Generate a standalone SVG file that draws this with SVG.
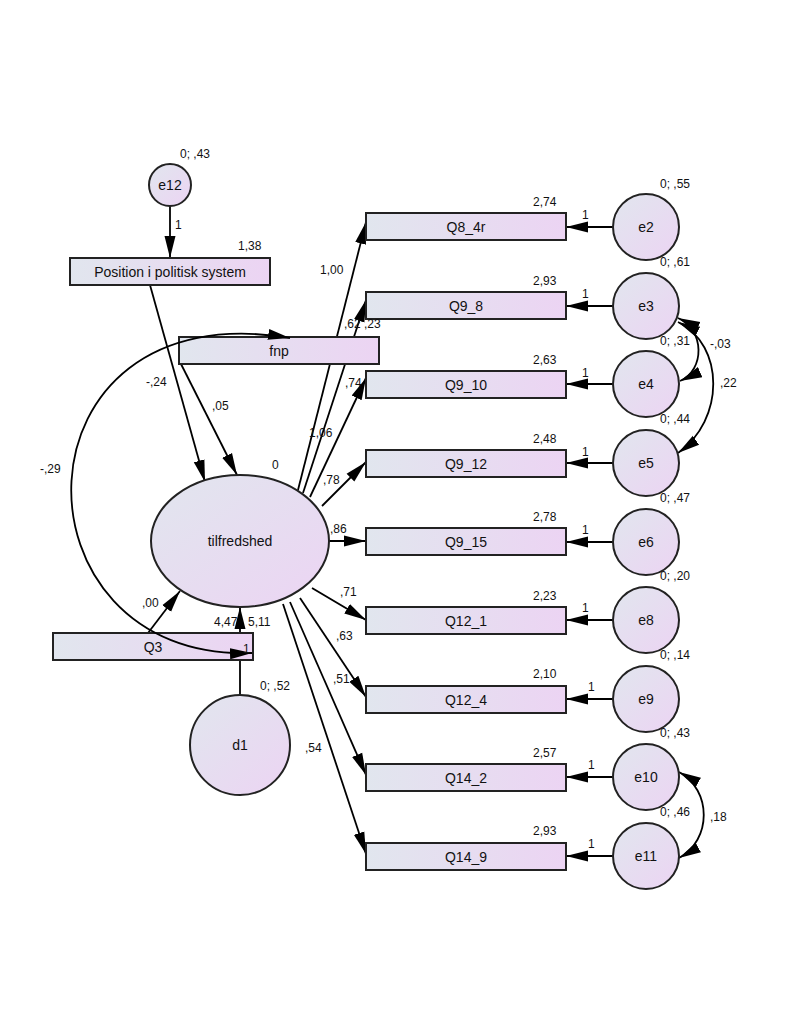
<svg xmlns="http://www.w3.org/2000/svg" width="800" height="1035" viewBox="0 0 800 1035">
<defs>
<linearGradient id="g" x1="0" y1="0" x2="1" y2="1"><stop offset="0" stop-color="#e1e6ee"/><stop offset="1" stop-color="#ecd4f3"/></linearGradient>
<linearGradient id="gb" x1="0" y1="0" x2="1" y2="0"><stop offset="0" stop-color="#e1e6ee"/><stop offset="1" stop-color="#ecd4f3"/></linearGradient>
<marker id="b" viewBox="0 0 10 10" refX="10" refY="5" markerWidth="22" markerHeight="22" markerUnits="userSpaceOnUse" orient="auto-start-reverse"><path d="M0,2.5 L10,5 L0,7.5 Z" fill="#000"/></marker>
</defs>
<style>
.bx{fill:url(#gb);stroke:#222;stroke-width:2}
circle,ellipse{fill:url(#g);stroke:#222;stroke-width:2}
text{font-family:"Liberation Sans",Arial,sans-serif;fill:#111}
.n{font-size:14px;text-anchor:middle}
.l{font-size:12px}
.c path,.c line{stroke:#000;stroke-width:1.8;fill:none;marker-end:url(#b)}
.c .d{marker-start:url(#b)}
</style>
<rect width="800" height="1035" fill="#fff"/>
<g class="c" id="connectors">
<line x1="170" y1="206" x2="170" y2="258"/>
<line x1="150" y1="285" x2="205" y2="482"/>
<line x1="181" y1="364" x2="237" y2="475"/>
<line x1="148" y1="633" x2="180" y2="591"/>
<line x1="240" y1="695" x2="240" y2="607"/>
<line x1="298" y1="490" x2="366" y2="222"/>
<line x1="303" y1="493" x2="366" y2="300"/>
<line x1="310" y1="497" x2="366" y2="378"/>
<line x1="322" y1="506" x2="366" y2="462"/>
<line x1="329" y1="541" x2="366" y2="541"/>
<line x1="312" y1="588" x2="366" y2="620"/>
<line x1="300" y1="598" x2="366" y2="697"/>
<line x1="290" y1="602" x2="366" y2="775"/>
<line x1="283" y1="604" x2="366" y2="854"/>
<line x1="613" y1="227" x2="566" y2="227"/>
<line x1="613" y1="306" x2="566" y2="306"/>
<line x1="613" y1="384" x2="566" y2="384"/>
<line x1="613" y1="463" x2="566" y2="463"/>
<line x1="613" y1="542" x2="566" y2="542"/>
<line x1="613" y1="620" x2="566" y2="620"/>
<line x1="613" y1="699" x2="566" y2="699"/>
<line x1="613" y1="777" x2="566" y2="777"/>
<line x1="613" y1="856" x2="566" y2="856"/>
<path class="d" d="M678,318 C705,330 705,370 680,381"/>
<path class="d" d="M678,322 C725,345 725,420 678,453"/>
<path class="d" d="M679,772 C712,790 712,840 679,858"/>
</g>
<g id="e12"><circle cx="170" cy="185" r="21"/><text class="n" x="170" y="190">e12</text></g>
<g id="pos"><rect class="bx" x="70" y="258" width="200" height="27"/><text class="n" x="170" y="277">Position i politisk system</text></g>
<g id="fnp"><rect class="bx" x="179" y="337" width="200" height="27"/><text class="n" x="279" y="356">fnp</text></g>
<g id="tilfredshed"><ellipse cx="240" cy="541" rx="89" ry="66"/><text class="n" x="240" y="546">tilfredshed</text></g>
<g id="Q3"><rect class="bx" x="53" y="633" width="200" height="27"/><text class="n" x="153" y="652">Q3</text></g>
<g id="d1"><circle cx="240" cy="745" r="50"/><text class="n" x="240" y="750">d1</text></g>
<g id="obs">
<rect class="bx" x="366" y="213" width="200" height="27"/><text class="n" x="466" y="232">Q8_4r</text>
<rect class="bx" x="366" y="292" width="200" height="27"/><text class="n" x="466" y="311">Q9_8</text>
<rect class="bx" x="366" y="371" width="200" height="27"/><text class="n" x="466" y="390">Q9_10</text>
<rect class="bx" x="366" y="450" width="200" height="27"/><text class="n" x="466" y="469">Q9_12</text>
<rect class="bx" x="366" y="528" width="200" height="27"/><text class="n" x="466" y="547">Q9_15</text>
<rect class="bx" x="366" y="607" width="200" height="27"/><text class="n" x="466" y="626">Q12_1</text>
<rect class="bx" x="366" y="686" width="200" height="27"/><text class="n" x="466" y="705">Q12_4</text>
<rect class="bx" x="366" y="764" width="200" height="27"/><text class="n" x="466" y="783">Q14_2</text>
<rect class="bx" x="366" y="843" width="200" height="27"/><text class="n" x="466" y="862">Q14_9</text>
</g>
<g id="errors">
<circle cx="646" cy="227" r="33"/><text class="n" x="646" y="232">e2</text>
<circle cx="646" cy="306" r="33"/><text class="n" x="646" y="311">e3</text>
<circle cx="646" cy="384" r="33"/><text class="n" x="646" y="389">e4</text>
<circle cx="646" cy="463" r="33"/><text class="n" x="646" y="468">e5</text>
<circle cx="646" cy="542" r="33"/><text class="n" x="646" y="547">e6</text>
<circle cx="646" cy="620" r="33"/><text class="n" x="646" y="625">e8</text>
<circle cx="646" cy="699" r="33"/><text class="n" x="646" y="704">e9</text>
<circle cx="646" cy="777" r="33"/><text class="n" x="646" y="782">e10</text>
<circle cx="646" cy="856" r="33"/><text class="n" x="646" y="861">e11</text>
</g>
<g class="c" id="connectors-cov">
<path class="d" d="M252,653 C5,662 5,290 290,338"/>
</g>
<g id="labels" class="l">
<text x="180" y="158">0; ,43</text>
<text x="175" y="229">1</text>
<text x="238" y="250">1,38</text>
<text x="146" y="386">-,24</text>
<text x="212" y="410">,05</text>
<text x="40" y="473">-,29</text>
<text x="320" y="274">1,00</text>
<text x="344" y="328">,62</text><text x="364" y="328">,23</text>
<text x="345" y="387">,74</text>
<text x="309" y="437">1,06</text>
<text x="272" y="469">0</text>
<text x="323" y="484">,78</text>
<text x="330" y="533">,86</text>
<text x="340" y="596">,71</text>
<text x="336" y="640">,63</text>
<text x="333" y="683">,51</text>
<text x="305" y="752">,54</text>
<text x="142" y="607">,00</text>
<text x="214" y="626">4,47</text><text x="248" y="626">5,11</text>
<text x="243" y="653">1</text>
<text x="260" y="690">0; ,52</text>
<text x="533" y="206">2,74</text><text x="582" y="219">1</text><text x="660" y="188">0; ,55</text>
<text x="533" y="285">2,93</text><text x="582" y="298">1</text><text x="660" y="266">0; ,61</text>
<text x="533" y="364">2,63</text><text x="582" y="377">1</text><text x="660" y="345">0; ,31</text>
<text x="533" y="443">2,48</text><text x="582" y="456">1</text><text x="660" y="423">0; ,44</text>
<text x="533" y="521">2,78</text><text x="582" y="534">1</text><text x="660" y="502">0; ,47</text>
<text x="533" y="600">2,23</text><text x="582" y="612">1</text><text x="660" y="580">0; ,20</text>
<text x="533" y="678">2,10</text><text x="588" y="691">1</text><text x="660" y="659">0; ,14</text>
<text x="533" y="757">2,57</text><text x="588" y="769">1</text><text x="660" y="737">0; ,43</text>
<text x="533" y="835">2,93</text><text x="588" y="848">1</text><text x="660" y="816">0; ,46</text>
<text x="710" y="348">-,03</text>
<text x="720" y="387">,22</text>
<text x="710" y="821">,18</text>
</g>
</svg>
